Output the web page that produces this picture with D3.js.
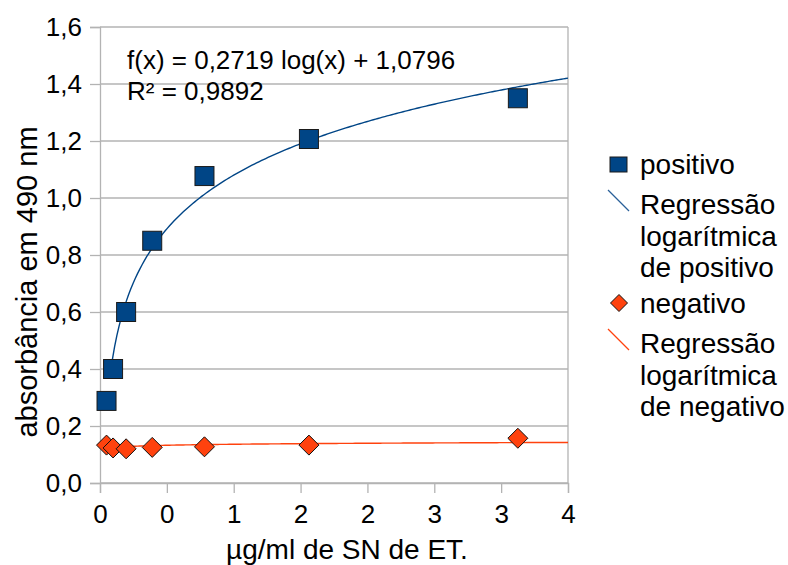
<!DOCTYPE html>
<html>
<head>
<meta charset="utf-8">
<script src="https://cdn.jsdelivr.net/npm/d3@7"></script>
<style>
  body { margin: 0; background: #fff; }
  text { font-family: "Liberation Sans", Arial, sans-serif; fill: #000; }
</style>
</head>
<body>
<div id="chart"></div>
<script>
// data (dilution series, µg/ml)
const concentrations = [0.0488, 0.0977, 0.1953, 0.3906, 0.7813, 1.5625, 3.125];
const positivo = [0.288, 0.40, 0.60, 0.85, 1.077, 1.207, 1.35];
const negativo = [0.133, 0.123, 0.12, 0.125, 0.127, 0.133, 0.157];

const xTicks = [0, 0.5, 1, 1.5, 2, 2.5, 3, 3.5];
const xTickLabels = ["0", "0", "1", "2", "2", "3", "3", "4"];
const yTicks = [0, 0.2, 0.4, 0.6, 0.8, 1.0, 1.2, 1.4, 1.6];
const yTickLabels = ["0,0", "0,2", "0,4", "0,6", "0,8", "1,0", "1,2", "1,4", "1,6"];
const equationLines = ["f(x) = 0,2719 log(x) + 1,0796", "R² = 0,9892"];

const blue = "#004586";
const orange = "#ff420e";
const grid = "#b3b3b3";

const W = 788, H = 565;
const pLeft = 100, pRight = 568, pTop = 27, pBottom = 483;

const svg = d3.select("#chart")
  .append("svg")
  .attr("width", W)
  .attr("height", H);

const x = d3.scaleLinear().domain([0, 3.5]).range([pLeft, pRight]);
const y = d3.scaleLinear().domain([0, 1.6]).range([pBottom, pTop]);

// horizontal grid
svg.append("g")
  .selectAll("line")
  .data(yTicks)
  .enter()
  .append("line")
  .attr("x1", pLeft)
  .attr("x2", pRight)
  .attr("y1", (d) => y(d))
  .attr("y2", (d) => y(d))
  .attr("stroke", grid)
  .attr("stroke-width", 1.3);

// right border of the plot wall
svg.append("line")
  .attr("x1", pRight).attr("x2", pRight)
  .attr("y1", pTop).attr("y2", pBottom)
  .attr("stroke", grid)
  .attr("stroke-width", 1.3);

const xAxis = d3.axisBottom(x)
  .tickValues(xTicks)
  .tickSize(10)
  .tickPadding(12)
  .tickFormat((d, i) => xTickLabels[i]);

const yAxis = d3.axisLeft(y)
  .tickValues(yTicks)
  .tickSize(10)
  .tickPadding(8)
  .tickFormat((d, i) => yTickLabels[i]);

const gx = svg.append("g")
  .attr("transform", "translate(0," + pBottom + ")")
  .call(xAxis);

const gy = svg.append("g")
  .attr("transform", "translate(" + pLeft + ",0)")
  .call(yAxis);

[gx, gy].forEach((g) => {
  g.select(".domain").attr("stroke", grid).attr("stroke-width", 1.3);
  g.selectAll(".tick line").attr("stroke", grid).attr("stroke-width", 1.3);
  g.selectAll(".tick text")
    .attr("fill", "#000")
    .style("font-size", "26px")
    .style("font-family", "'Liberation Sans', Arial, sans-serif");
});

// axis titles
svg.append("text")
  .attr("x", 347)
  .attr("y", 559)
  .attr("text-anchor", "middle")
  .style("font-size", "28px")
  .text("µg/ml de SN de ET.");

svg.append("text")
  .attr("transform", "translate(37,282) rotate(-90)")
  .attr("text-anchor", "middle")
  .style("font-size", "29px")
  .text("absorbância em 490 nm");

// logarithmic regression (least squares on ln x)
function logFit(xs, ys) {
  const lx = xs.map(Math.log);
  const mx = d3.mean(lx), my = d3.mean(ys);
  const sxy = d3.sum(lx, (v, i) => (v - mx) * (ys[i] - my));
  const sxx = d3.sum(lx, (v) => (v - mx) * (v - mx));
  const a = sxy / sxx;
  return { a: a, b: my - a * mx };
}

const fitPos = logFit(concentrations, positivo);
const fitNeg = logFit(concentrations, negativo);

const curveX = d3.range(0, 201).map((i) => 0.075 + (3.5 - 0.075) * i / 200);

const line = d3.line()
  .x((d) => x(d[0]))
  .y((d) => y(d[1]));

svg.append("path")
  .datum(curveX.map((v) => [v, fitPos.a * Math.log(v) + fitPos.b]))
  .attr("d", line)
  .attr("fill", "none")
  .attr("stroke", blue)
  .attr("stroke-width", 1.4);

svg.append("path")
  .datum(curveX.map((v) => [v, fitNeg.a * Math.log(v) + fitNeg.b]))
  .attr("d", line)
  .attr("fill", "none")
  .attr("stroke", orange)
  .attr("stroke-width", 1.4);

// markers
const sq = 19;
svg.append("g")
  .selectAll("rect")
  .data(concentrations)
  .enter()
  .append("rect")
  .attr("x", (d) => x(d) - sq / 2)
  .attr("y", (d, i) => y(positivo[i]) - sq / 2)
  .attr("width", sq)
  .attr("height", sq)
  .attr("fill", blue)
  .attr("stroke", "#1a1a1a")
  .attr("stroke-width", 1);

const dm = 10;
const diamond = (cx, cy, r) =>
  "M" + cx + "," + (cy - r) + "L" + (cx + r) + "," + cy + "L" + cx + "," + (cy + r) + "L" + (cx - r) + "," + cy + "Z";

svg.append("g")
  .selectAll("path")
  .data(concentrations)
  .enter()
  .append("path")
  .attr("d", (d, i) => diamond(x(d), y(negativo[i]), dm))
  .attr("fill", orange)
  .attr("stroke", "#111")
  .attr("stroke-width", 1);

// equation
svg.append("g")
  .selectAll("text")
  .data(equationLines)
  .enter()
  .append("text")
  .attr("x", 127)
  .attr("y", (d, i) => 69 + i * 31)
  .style("font-size", "26px")
  .text((d) => d);

// legend
const legendItems = [
  { kind: "square", color: blue, y: 174, lines: ["positivo"] },
  { kind: "line", color: "#2a6099", y: 214, lines: ["Regressão", "logarítmica", "de positivo"] },
  { kind: "diamond", color: orange, y: 313, lines: ["negativo"] },
  { kind: "line", color: orange, y: 353, lines: ["Regressão", "logarítmica", "de negativo"] }
];

const legend = svg.append("g");
legendItems.forEach((it) => {
  const g = legend.append("g").attr("transform", "translate(0," + it.y + ")");
  if (it.kind === "square") {
    g.append("rect")
      .attr("x", 610).attr("y", -17)
      .attr("width", 17).attr("height", 15)
      .attr("fill", it.color).attr("stroke", "#1a1a1a");
  } else if (it.kind === "diamond") {
    g.append("path")
      .attr("d", diamond(619, -10, 8.5))
      .attr("fill", it.color).attr("stroke", "#111");
  } else {
    g.append("line")
      .attr("x1", 608).attr("y1", -24)
      .attr("x2", 629).attr("y2", -3)
      .attr("stroke", it.color).attr("stroke-width", 1.2);
  }
  g.selectAll("text")
    .data(it.lines)
    .enter()
    .append("text")
    .attr("x", 640)
    .attr("y", (d, i) => i * 31.7)
    .style("font-size", "28px")
    .text((d) => d);
});
</script>
</body>
</html>
